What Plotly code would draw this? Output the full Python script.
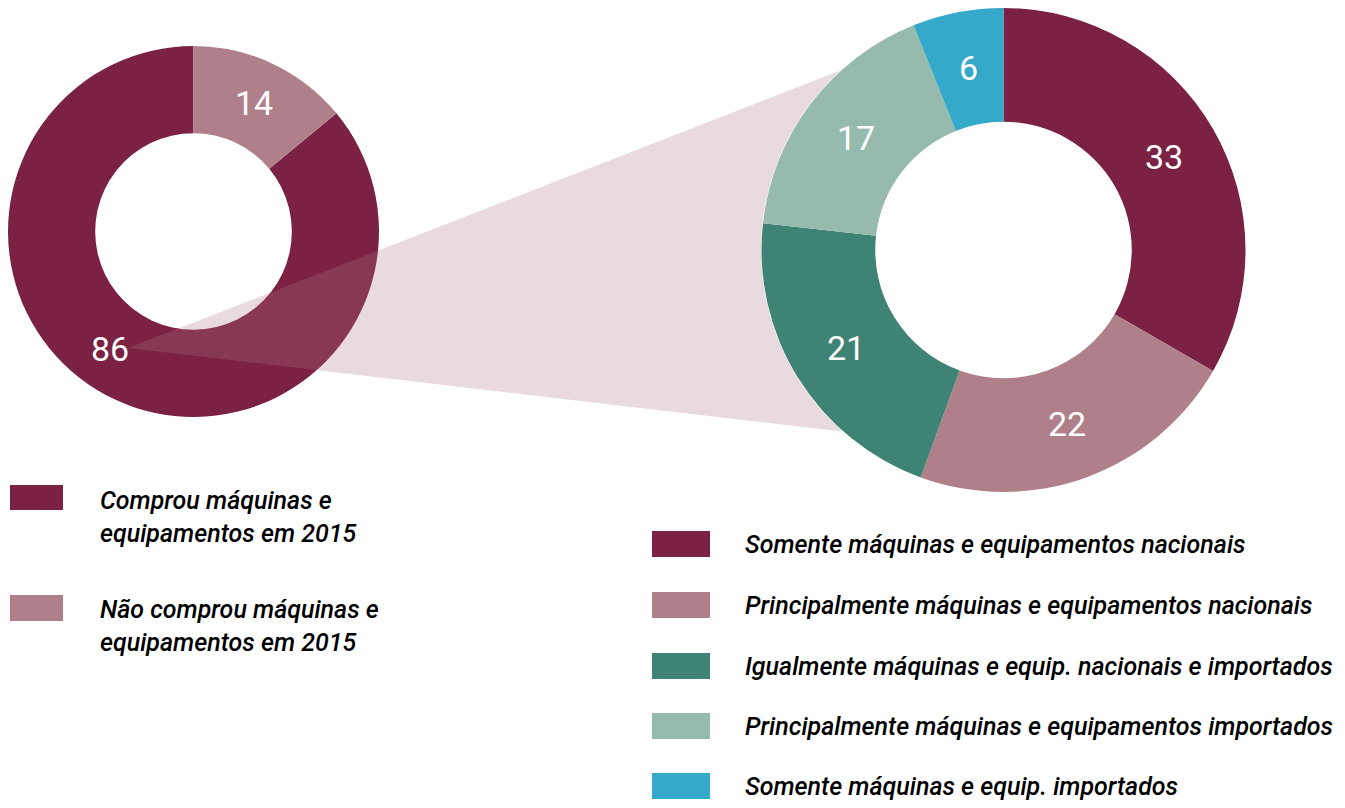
import math
import plotly.graph_objects as go

# page has an 8px body margin; the figure fills the rest of the window
OFF = 8
W, H = 1345 - OFF, 808 - OFF

# ---- data ----
left_labels = ["Comprou máquinas e<br>equipamentos em 2015",
               "Não comprou máquinas e<br>equipamentos em 2015"]
left_values = [86, 14]
left_colors = ["#7B2143", "#B0808A"]

right_labels = ["Somente máquinas e equipamentos nacionais",
                "Principalmente máquinas e equipamentos nacionais",
                "Igualmente máquinas e equip. nacionais e importados",
                "Principalmente máquinas e equipamentos importados",
                "Somente máquinas e equip. importados"]
right_values = [33, 22, 21, 17, 6]
right_colors = ["#7B2143", "#B0808A", "#3E8373", "#97BAAE", "#35A9C9"]

FONT = "Roboto, Lato, sans-serif"
HOLE = 0.53


def px(x):
    return (x - OFF) / W


def py(y):
    return 1 - (y - OFF) / H


# donut geometry (window pixels)
L_X0, L_X1, L_Y0, L_Y1 = 8, 379, 46, 417
R_X0, R_X1, R_Y0, R_Y1 = 761.5, 1245.5, 8, 492

fig = go.Figure()

fig.add_trace(go.Pie(
    labels=[l.replace("<br>", " ") for l in left_labels],
    values=left_values,
    textinfo="none",
    marker=dict(colors=left_colors, line=dict(width=0)),
    hole=HOLE,
    sort=False,
    direction="clockwise",
    rotation=360 * left_values[1] / sum(left_values),
    domain=dict(x=[px(L_X0), px(L_X1)], y=[py(L_Y1), py(L_Y0)]),
    hoverinfo="skip",
    showlegend=False,
))

fig.add_trace(go.Pie(
    labels=right_labels,
    values=right_values,
    textinfo="none",
    marker=dict(colors=right_colors, line=dict(width=0)),
    hole=HOLE,
    sort=False,
    direction="clockwise",
    rotation=0,
    domain=dict(x=[px(R_X0), px(R_X1)], y=[py(R_Y1), py(R_Y0)]),
    hoverinfo="skip",
    showlegend=False,
))


def slice_labels(values, start_deg, x0, x1, y0, y1, skip=()):
    """Value labels placed at each slice's mid-angle, mid-ring radius (clockwise)."""
    cx, cy = (x0 + x1) / 2, (y0 + y1) / 2
    r_out = (x1 - x0) / 2
    r_mid = r_out * (1 + HOLE) / 2
    total = sum(values)
    acc = start_deg
    for i, v in enumerate(values):
        mid = acc + 360 * v / total / 2
        acc += 360 * v / total
        if i in skip:
            continue
        a = math.radians(mid)
        fig.add_annotation(x=px(cx + r_mid * math.sin(a)),
                           y=py(cy - r_mid * math.cos(a)),
                           xref="paper", yref="paper", text=str(v),
                           showarrow=False,
                           font=dict(family=FONT, size=34, color="white"),
                           xanchor="center", yanchor="middle")


slice_labels(right_values, 0, R_X0, R_X1, R_Y0, R_Y1)
slice_labels(left_values, 360 * left_values[1] / sum(left_values),
             L_X0, L_X1, L_Y0, L_Y1, skip=(0,))

# connector wedge from left donut to right donut edge
apex = (128, 348)
rcx, rcy = (R_X0 + R_X1) / 2, (R_Y0 + R_Y1) / 2
rr = (R_X1 - R_X0) / 2 + 0.5
a_top = math.degrees(math.atan2(70 - rcy, 840 - rcx)) % 360
a_bot = math.degrees(math.atan2(437 - rcy, 838 - rcx)) % 360
pts = [apex]
n = 40
for i in range(n + 1):
    a = math.radians(a_top + (a_bot - a_top) * i / n)
    pts.append((rcx + rr * math.cos(a), rcy + rr * math.sin(a)))
path = "M " + " L ".join(f"{px(x):.5f},{py(y):.5f}" for x, y in pts) + " Z"
fig.add_shape(type="path", path=path, xref="paper", yref="paper",
              fillcolor="rgba(174,119,138,0.27)", line=dict(width=0),
              layer="above")

# 86 label at wedge apex
fig.add_annotation(x=px(110), y=py(349), xref="paper", yref="paper",
                   text=str(left_values[0]), showarrow=False,
                   font=dict(family=FONT, size=34, color="white"),
                   xanchor="center", yanchor="middle")

# left legend
left_rows = [(485, 510, 517), (595, 621, 626)]
for lab, col, (t, b, cy) in zip(left_labels, left_colors, left_rows):
    fig.add_shape(type="rect", xref="paper", yref="paper",
                  x0=px(10), x1=px(63), y0=py(b), y1=py(t),
                  fillcolor=col, line=dict(width=0))
    fig.add_annotation(x=px(98), y=py(cy), xref="paper", yref="paper",
                       text=lab, showarrow=False, align="left",
                       xanchor="left", yanchor="middle",
                       font=dict(family=FONT, size=25, color="black",
                                 style="italic", weight=500))

# right legend
right_rows = [544, 605, 666, 726, 786]
for lab, col, cy in zip(right_labels, right_colors, right_rows):
    fig.add_shape(type="rect", xref="paper", yref="paper",
                  x0=px(652), x1=px(710), y0=py(cy + 13), y1=py(cy - 13),
                  fillcolor=col, line=dict(width=0))
    fig.add_annotation(x=px(743), y=py(cy), xref="paper", yref="paper",
                       text=lab, showarrow=False, align="left",
                       xanchor="left", yanchor="middle",
                       font=dict(family=FONT, size=25, color="black",
                                 style="italic", weight=500))

fig.update_layout(
    width=W, height=H,
    margin=dict(l=0, r=0, t=0, b=0),
    paper_bgcolor="white", plot_bgcolor="white",
    showlegend=False,
)

fig.write_html("out.html")
